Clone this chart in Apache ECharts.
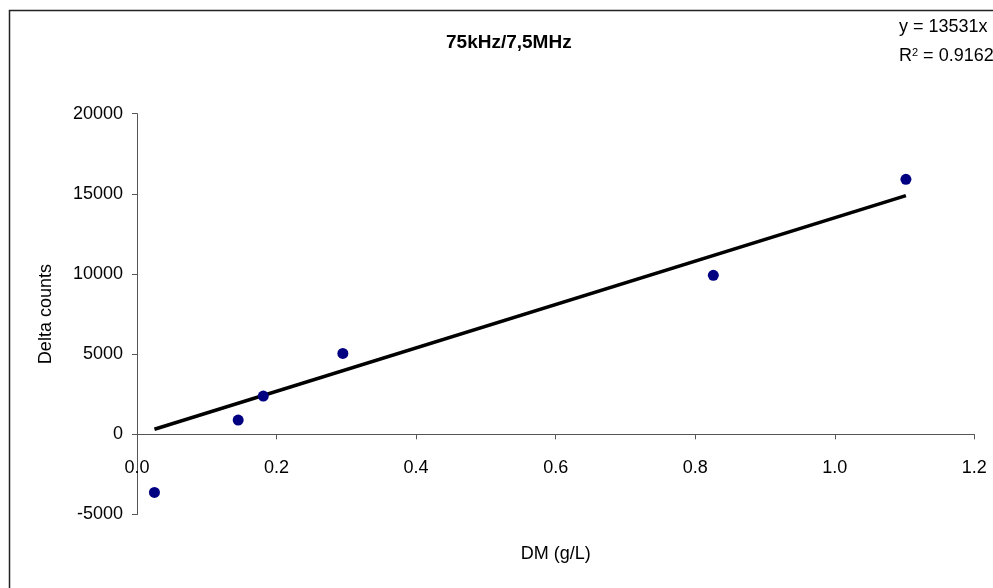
<!DOCTYPE html>
<html>
<head>
<meta charset="utf-8">
<script src="https://cdn.jsdelivr.net/npm/echarts@6/dist/echarts.min.js"></script>
<style>
  html, body { margin: 0; padding: 0; background: #fff; }
  #chart { width: 993px; height: 588px; }
</style>
</head>
<body>
<div id="chart"></div>
<script>
// Dry matter concentration (g/L) against change in counts
const dm = [0.025, 0.145, 0.181, 0.295, 0.826, 1.102];
const deltaCounts = [-3620, 890, 2390, 5050, 9920, 15910];

// Linear trendline: y = 13531x + b
const trendSlope = 13531;
const trendIntercept = -20;
const r2Text = '0.9162';

const xTicks = { min: 0, max: 1.2, step: 0.2 };
const yTicks = { min: -5000, max: 20000, step: 5000 };

const points = dm.map((x, i) => [x, deltaCounts[i]]);
const xFirst = Math.min(...dm), xLast = Math.max(...dm);
const trend = [xFirst, xLast].map(x => [x, trendSlope * x + trendIntercept]);

const FONT = '"Liberation Sans", Arial, sans-serif';
const axisColor = '#555555';

const chart = echarts.init(document.getElementById('chart'), null, { renderer: 'canvas' });
chart.setOption({
  animation: false,
  backgroundColor: '#ffffff',
  title: {
    text: '75kHz/7,5MHz',
    left: 441, top: 28,
    textStyle: { fontFamily: FONT, fontSize: 19, fontWeight: 'bold', color: '#000' }
  },
  grid: {
    left: 137, right: 18.7, top: 113.7, bottom: 73.5,
    containLabel: false, outerBoundsMode: 'none'
  },
  xAxis: {
    type: 'value',
    min: xTicks.min, max: xTicks.max, interval: xTicks.step,
    name: 'DM (g/L)', nameLocation: 'middle', nameGap: 31, nameMoveOverlap: false,
    nameTextStyle: { fontFamily: FONT, fontSize: 18, color: '#000' },
    axisLine: { onZero: true, lineStyle: { color: axisColor, width: 1 } },
    axisTick: { show: true, inside: false, length: 5, lineStyle: { color: axisColor } },
    axisLabel: { margin: -55, fontFamily: FONT, fontSize: 18, color: '#000',
                 formatter: v => v.toFixed(1) },
    splitLine: { show: false }
  },
  yAxis: {
    type: 'value',
    min: yTicks.min, max: yTicks.max, interval: yTicks.step,
    name: 'Delta counts', nameLocation: 'middle', nameGap: 82, nameRotate: 90,
    nameTextStyle: { fontFamily: FONT, fontSize: 18, color: '#000' },
    axisLine: { show: true, onZero: false, lineStyle: { color: axisColor, width: 1 } },
    axisTick: { show: true, inside: false, length: 5, lineStyle: { color: axisColor } },
    axisLabel: { margin: 14, fontFamily: FONT, fontSize: 18, color: '#000',
                 formatter: v => String(v) },
    splitLine: { show: false }
  },
  graphic: [
    {
      type: 'rect', silent: true, z: -1,
      shape: { x: 9.5, y: 10.5, width: 1100, height: 700 },
      style: { fill: 'none', stroke: '#222', lineWidth: 1.5 }
    },
    {
      type: 'text', left: 899, top: 18, silent: true,
      style: { text: 'y = ' + trendSlope + 'x', font: '18px ' + FONT, fill: '#000' }
    },
    {
      type: 'text', left: 899, top: 47, silent: true,
      style: {
        text: '{r|R}{s|2}{r| = ' + r2Text + '}',
        rich: {
          r: { fontFamily: FONT, fontSize: 18, fill: '#000', verticalAlign: 'bottom' },
          s: { fontFamily: FONT, fontSize: 11, fill: '#000', verticalAlign: 'top' }
        }
      }
    }
  ],
  series: [
    {
      name: 'Trendline', type: 'line', data: trend,
      symbol: 'none', z: 2,
      lineStyle: { color: '#000', width: 3.5 }
    },
    {
      name: 'Delta counts', type: 'scatter', data: points,
      symbol: 'circle', symbolSize: 11, z: 3,
      itemStyle: { color: '#000080', opacity: 1 }
    }
  ]
});
</script>
</body>
</html>
